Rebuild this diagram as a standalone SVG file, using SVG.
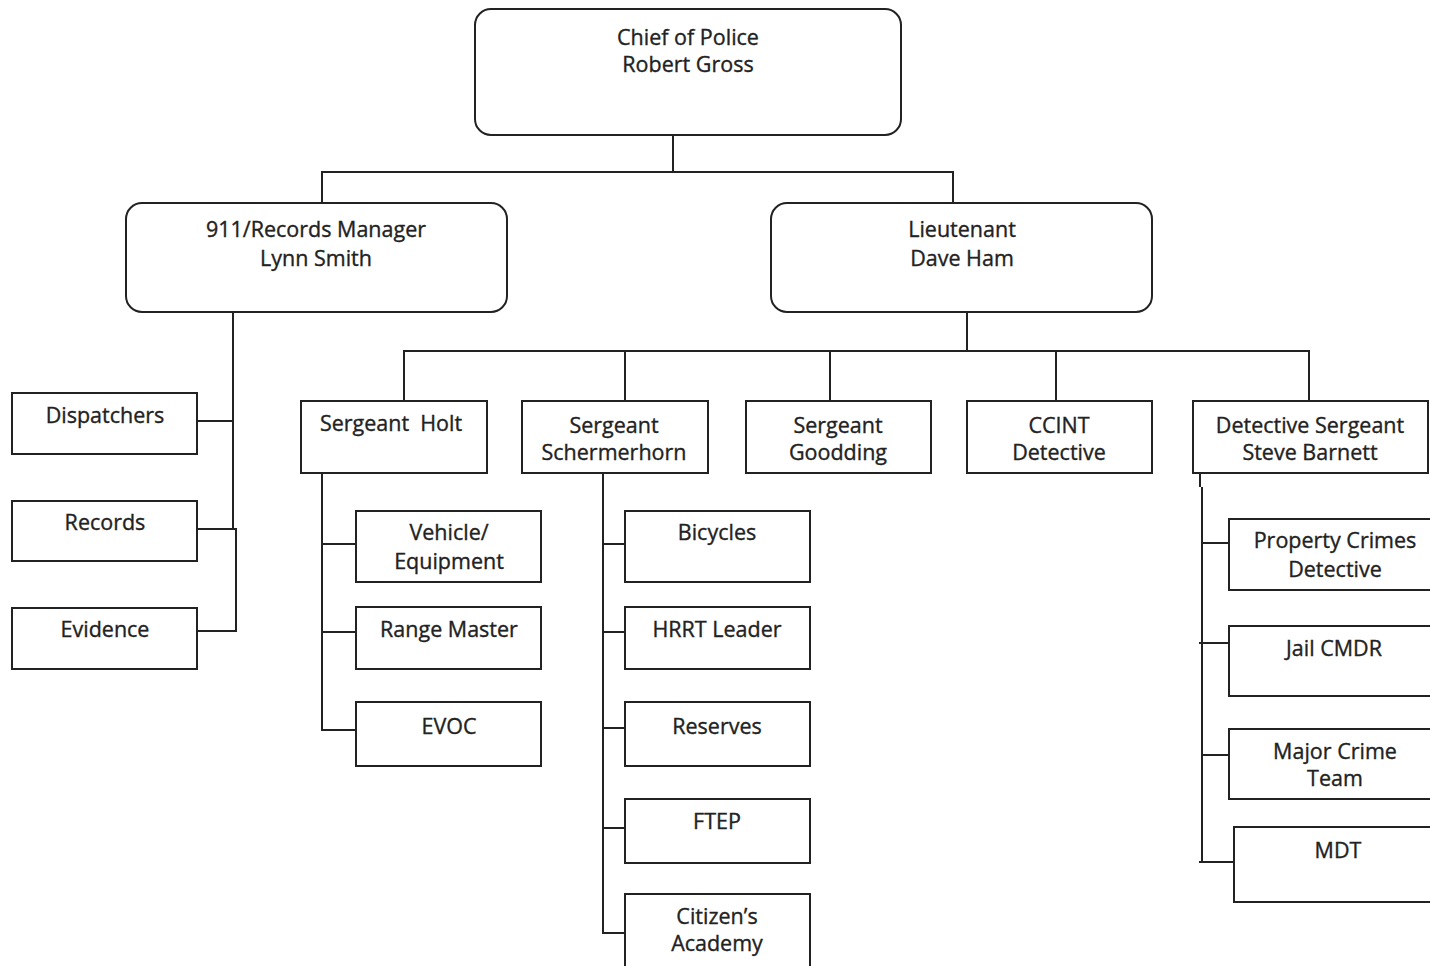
<svg xmlns="http://www.w3.org/2000/svg" width="1430" height="966" viewBox="0 0 1430 966">
<style>
.b{fill:#fff;stroke:#222;stroke-width:2}
.t{font-family:"Open Sans","Noto Sans","Liberation Sans",sans-serif;font-size:21.5px;fill:#222;stroke:#222;stroke-width:0.35;text-anchor:middle}
.c{fill:none;stroke:#222;stroke-width:2}
</style>
<rect width="1430" height="966" fill="#fff"/>
<g id="connectors">
<path class="c" d="M673 135V172M322 203V172H953V203"/>
<path class="c" d="M233 312V529M197 421H233M197 529H236V631H197"/>
<path class="c" d="M967 312V351M404 401V351H1309V401M625 351V401M830 351V401M1056 351V401"/>
<path class="c" d="M322 473V730H356M322 544H356M322 632H356"/>
<path class="c" d="M603 473V933H625M603 544H625M603 632H625M603 728H625M603 828H625"/>
<path class="c" d="M1200 473V487M1202 487V862M1199 862H1234M1202 543H1229M1199 643H1229M1202 755H1229"/>
</g>
<g id="chief"><rect class="b" x="475" y="9" width="426" height="126" rx="16"/><text class="t" x="688" y="45">Chief of Police</text><text class="t" x="688" y="72">Robert Gross</text></g>
<g id="records-manager"><rect class="b" x="126" y="203" width="381" height="109" rx="16"/><text class="t" x="316" y="237">911/Records Manager</text><text class="t" x="316" y="266">Lynn Smith</text></g>
<g id="lieutenant"><rect class="b" x="771" y="203" width="381" height="109" rx="16"/><text class="t" x="962" y="237">Lieutenant</text><text class="t" x="962" y="266">Dave Ham</text></g>
<g id="dispatchers"><rect class="b" x="12" y="393" width="185" height="61"/><text class="t" x="105" y="423">Dispatchers</text></g>
<g id="records"><rect class="b" x="12" y="501" width="185" height="60"/><text class="t" x="105" y="530">Records</text></g>
<g id="evidence"><rect class="b" x="12" y="608" width="185" height="61"/><text class="t" x="105" y="637">Evidence</text></g>
<g id="sgt-holt"><rect class="b" x="301" y="401" width="186" height="72"/><text class="t" x="391" y="431" xml:space="preserve">Sergeant  Holt</text></g>
<g id="sgt-schermerhorn"><rect class="b" x="522" y="401" width="186" height="72"/><text class="t" x="614" y="433">Sergeant</text><text class="t" x="614" y="460">Schermerhorn</text></g>
<g id="sgt-goodding"><rect class="b" x="746" y="401" width="185" height="72"/><text class="t" x="838" y="433">Sergeant</text><text class="t" x="838" y="460">Goodding</text></g>
<g id="ccint"><rect class="b" x="967" y="401" width="185" height="72"/><text class="t" x="1059" y="433">CCINT</text><text class="t" x="1059" y="460">Detective</text></g>
<g id="det-sgt"><rect class="b" x="1193" y="401" width="235" height="72"/><text class="t" x="1310" y="433">Detective Sergeant</text><text class="t" x="1310" y="460">Steve Barnett</text></g>
<g id="vehicle"><rect class="b" x="356" y="511" width="185" height="71"/><text class="t" x="449" y="540">Vehicle/</text><text class="t" x="449" y="569">Equipment</text></g>
<g id="range-master"><rect class="b" x="356" y="607" width="185" height="62"/><text class="t" x="449" y="637">Range Master</text></g>
<g id="evoc"><rect class="b" x="356" y="702" width="185" height="64"/><text class="t" x="449" y="734">EVOC</text></g>
<g id="bicycles"><rect class="b" x="625" y="511" width="185" height="71"/><text class="t" x="717" y="540">Bicycles</text></g>
<g id="hrrt"><rect class="b" x="625" y="607" width="185" height="62"/><text class="t" x="717" y="637">HRRT Leader</text></g>
<g id="reserves"><rect class="b" x="625" y="702" width="185" height="64"/><text class="t" x="717" y="734">Reserves</text></g>
<g id="ftep"><rect class="b" x="625" y="799" width="185" height="64"/><text class="t" x="717" y="829">FTEP</text></g>
<g id="citizens-academy"><rect class="b" x="625" y="894" width="185" height="80"/><text class="t" x="717" y="924">Citizen’s</text><text class="t" x="717" y="951">Academy</text></g>
<g id="property-crimes"><rect class="b" x="1229" y="519" width="215" height="71"/><text class="t" x="1335" y="548">Property Crimes</text><text class="t" x="1335" y="577">Detective</text></g>
<g id="jail-cmdr"><rect class="b" x="1229" y="626" width="215" height="70"/><text class="t" x="1334" y="656">Jail CMDR</text></g>
<g id="major-crime"><rect class="b" x="1229" y="729" width="215" height="70"/><text class="t" x="1335" y="759">Major Crime</text><text class="t" x="1335" y="786">Team</text></g>
<g id="mdt"><rect class="b" x="1234" y="827" width="210" height="75"/><text class="t" x="1338" y="858">MDT</text></g>
</svg>
